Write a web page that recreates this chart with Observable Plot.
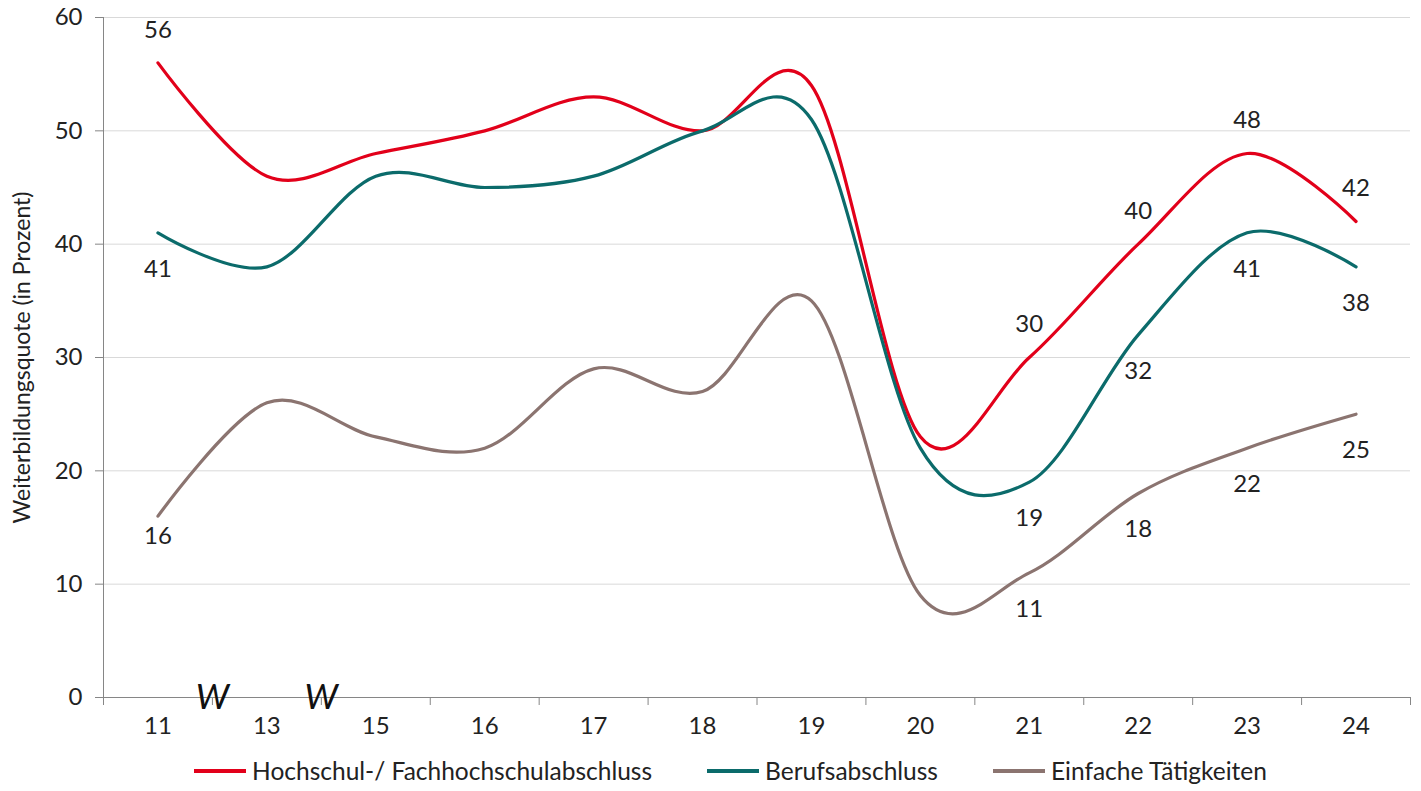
<!DOCTYPE html>
<html>
<head>
<meta charset="utf-8">
<script src="https://cdn.jsdelivr.net/npm/d3@7"></script>
<script src="https://cdn.jsdelivr.net/npm/@observablehq/plot@0.6"></script>
<style>
  html, body { margin: 0; padding: 0; background: #fff; }
  body { font-family: Lato, "Open Sans", sans-serif; color: #222; }
  #legend { display: flex; justify-content: center; align-items: center; gap: 55px; height: 41px; width: 1421px; padding-left: 40px; box-sizing: border-box; font-size: 24.5px; }
  .item { display: flex; align-items: center; gap: 6px; }
  .sw { width: 52px; height: 4px; }
</style>
</head>
<body>
<div id="chart"></div>
<div id="legend"></div>
<script>
const categories = ["11","13","15","16","17","18","19","20","21","22","23","24"];
const seriesNames = ["Hochschul-/ Fachhochschulabschluss", "Berufsabschluss", "Einfache Tätigkeiten"];
const seriesColors = ["#e2001a", "#0b6b6b", "#8b7470"];
const hochschul = [56, 46, 48, 50, 53, 50, 54, 23, 30, 40, 48, 42];
const beruf     = [41, 38, 46, 45, 46, 50, 51, 22, 19, 32, 41, 38];
const einfach   = [16, 26, 23, 22, 29, 27, 35, 9, 11, 18, 22, 25];
const labelledCategories = ["11", "21", "22", "23", "24"];
const closeLabel = {series: "Einfache Tätigkeiten", cat: "11"};
const breakAfter = ["11", "13"];
const yTicks = [0, 10, 20, 30, 40, 50, 60];
const yLabel = "Weiterbildungsquote (in Prozent)";

const values = [hochschul, beruf, einfach];
const rows = [];
values.forEach((arr, s) => arr.forEach((v, i) => rows.push({i, cat: categories[i], series: seriesNames[s], s, value: v})));
const labelRows = rows.filter(d => labelledCategories.includes(d.cat));
const isClose = d => d.series === closeLabel.series && d.cat === closeLabel.cat;
const xDomain = [-0.5, categories.length - 0.5];
const centers = categories.map((c, i) => i);
const bounds = d3.range(categories.length + 1).map(i => i - 0.5);
const breaks = breakAfter.map(c => ({x: categories.indexOf(c) + 0.5}));

const axisColor = "#868686";
const textColor = "#222";
const fs = 24;

const chart = Plot.plot({
  width: 1421,
  height: 750,
  marginLeft: 103,
  marginRight: 11,
  marginTop: 17,
  marginBottom: 53,
  style: {fontFamily: "Lato, 'Open Sans', sans-serif", background: "#fff", color: textColor},
  x: {type: "linear", domain: xDomain},
  y: {domain: [0, 60]},
  color: {domain: seriesNames, range: seriesColors},
  marks: [
    Plot.ruleY(yTicks.filter(d => d > 0), {stroke: "#d9d9d9", strokeWidth: 1}),
    Plot.ruleY([0], {stroke: axisColor, strokeWidth: 1}),
    Plot.ruleX([xDomain[0]], {stroke: axisColor, strokeWidth: 1}),
    Plot.axisY(yTicks, {tickSize: 8, tickPadding: 13, fontSize: fs, label: null, stroke: axisColor, fill: textColor}),
    Plot.axisX(bounds, {tickSize: 8, tickFormat: () => "", label: null, stroke: axisColor}),
    Plot.axisX(centers, {tickSize: 0, tickPadding: 19, tickFormat: i => categories[i], fontSize: fs, label: null, fill: textColor}),
    Plot.text([yLabel], {frameAnchor: "left", textAnchor: "middle", rotate: -90, dx: -81, fontSize: 23, fill: textColor}),
    Plot.text(breaks, {x: "x", y: () => 0, text: () => "W", fontSize: 35, fontStyle: "italic", fill: "#111"}),
    Plot.line(rows, {x: "i", y: "value", z: "series", stroke: "series", curve: d3.curveCardinal.tension(0), strokeWidth: 3.2}),
    Plot.text(labelRows.filter(d => d.s === 0), {x: "i", y: "value", text: d => String(d.value), dy: -33, fontSize: fs, fill: textColor}),
    Plot.text(labelRows.filter(d => d.s !== 0 && !isClose(d)), {x: "i", y: "value", text: d => String(d.value), dy: 36, fontSize: fs, fill: textColor}),
    Plot.text(labelRows.filter(isClose), {x: "i", y: "value", text: d => String(d.value), dy: 20, fontSize: fs, fill: textColor})
  ]
});
document.getElementById("chart").appendChild(chart);

const legend = document.getElementById("legend");
seriesNames.forEach((name, k) => {
  const item = document.createElement("div");
  item.className = "item";
  const sw = document.createElement("div");
  sw.className = "sw";
  sw.style.background = seriesColors[k];
  const label = document.createElement("span");
  label.textContent = name;
  item.appendChild(sw);
  item.appendChild(label);
  legend.appendChild(item);
});
</script>
</body>
</html>
